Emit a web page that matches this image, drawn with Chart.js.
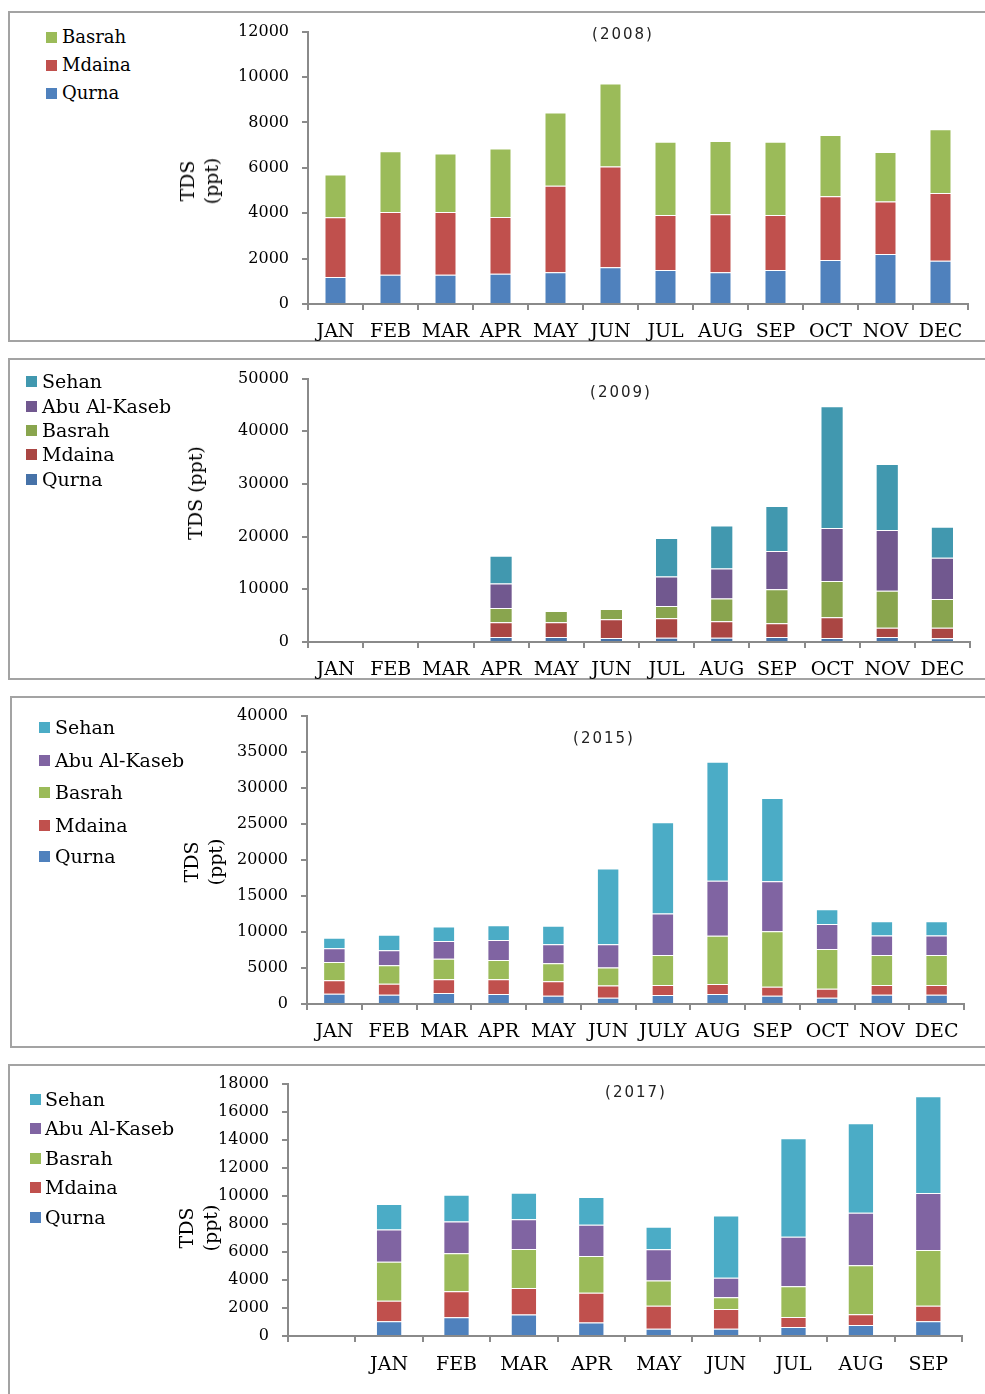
<!DOCTYPE html>
<html><head><meta charset="utf-8">
<script src="https://cdn.jsdelivr.net/npm/chart.js@4.4.1/dist/chart.umd.min.js"></script>
<style>
html,body{margin:0;padding:0;background:#fff;}
body{width:985px;height:1394px;overflow:hidden;position:relative;}
.box{position:absolute;border:2px solid #a3a3a3;box-sizing:border-box;}
.cv{position:absolute;}
.legrow{position:absolute;font-family:'DejaVu Serif';color:#000;white-space:nowrap;line-height:20px;}
.sw{position:absolute;width:11px;height:11px;}
.ytitle{position:absolute;font-family:'DejaVu Serif';font-size:19px;text-align:center;line-height:24px;white-space:nowrap;color:#000;transform:translate(-50%,-50%) rotate(-90deg);}
.ptitle{position:absolute;font-family:'DejaVu Sans';font-size:15px;letter-spacing:2px;color:#222;white-space:nowrap;transform:translate(-50%,-50%);}
</style></head>
<body>
<script>
// ---------- DATA ----------
const months = ['JAN','FEB','MAR','APR','MAY','JUN','JUL','AUG','SEP','OCT','NOV','DEC'];
const months2015 = ['JAN','FEB','MAR','APR','MAY','JUN','JULY','AUG','SEP','OCT','NOV','DEC'];
const months2017 = ['','JAN','FEB','MAR','APR','MAY','JUN','JUL','AUG','SEP'];
const stationNames = ['Qurna','Mdaina','Basrah','Abu Al-Kaseb','Sehan'];
const yearTitles = ['(2008)','(2009)','(2015)','(2017)'];

const qurna2008  = [1190,1290,1290,1330,1400,1620,1500,1400,1500,1940,2200,1900];
const mdaina2008 = [2630,2760,2760,2505,3810,4440,2420,2550,2420,2810,2315,2990];
const basrah2008 = [1880,2680,2580,3010,3230,3650,3230,3230,3230,2700,2185,2810];

const qurna2009  = [null,null,null,940,940,750,820,820,940,750,940,690];
const mdaina2009 = [null,null,null,2820,2820,3570,3690,3130,2630,3950,1750,2000];
const basrah2009 = [null,null,null,2690,2130,1950,2320,4320,6460,6890,7020,5460];
const abu2009    = [null,null,null,4640,null,null,5580,5700,7260,10030,11530,7830];
const sehan2009  = [null,null,null,5260,null,null,7330,8150,8530,23120,12530,5890];

const qurna2015  = [1420,1290,1510,1380,1150,870,1240,1380,1150,870,1290,1290];
const mdaina2015 = [1890,1510,1930,2060,2020,1700,1380,1380,1240,1240,1330,1330];
const basrah2015 = [2520,2570,2850,2670,2480,2480,4180,6700,7710,5510,4180,4180];
const abu2015    = [1890,2070,2440,2750,2620,3220,5740,7620,6940,3490,2710,2710];
const sehan2015  = [1460,2160,2020,2070,2570,10510,12670,16530,11520,2020,1970,1970];

const qurna2017  = [null,1060,1340,1530,960,520,520,640,780,1060];
const mdaina2017 = [null,1450,1860,1900,2120,1640,1410,720,770,1100];
const basrah2017 = [null,2780,2700,2770,2630,1790,840,2190,3500,3970];
const abu2017    = [null,2300,2260,2120,2230,2230,1390,3520,3740,4070];
const sehan2017  = [null,1830,1920,1900,1980,1620,4440,7030,6390,6890];

const yMax = [12000, 50000, 40000, 18000];
const yStep = [2000, 10000, 5000, 2000];

// ---------- STYLE / LAYOUT ----------
const colorsStd = ['#4F81BD','#C0504D','#9BBB59','#8064A2','#4BACC6'];
const colors2009 = ['#4672A8','#AA4643','#89A54E','#71588F','#4198AF'];
const AX = '#8a8a8a';

const panels = [
  {labels: months, series: [qurna2008, mdaina2008, basrah2008], colors: colorsStd,
   box:{l:8,t:11,b:342}, plot:{l:308,r:968,t:29,b:304}, bar:0.40, xpad:11,
   legend:{sx:46,tx:62,fs:18,rows:[93,65,37]}, ytitle:{x:199,y:181,lines:['TDS','(ppt)']}, title:{x:623,y:34}},
  {labels: months, series: [qurna2009, mdaina2009, basrah2009, abu2009, sehan2009], colors: colors2009,
   box:{l:8,t:358,b:680}, plot:{l:308,r:970,t:376,b:642}, bar:0.42, xpad:11,
   legend:{sx:26,tx:42,fs:19,rows:[479,454,430,406,381]}, ytitle:{x:195,y:493,lines:['TDS (ppt)']}, title:{x:621,y:392}},
  {labels: months2015, series: [qurna2015, mdaina2015, basrah2015, abu2015, sehan2015], colors: colorsStd,
   box:{l:10,t:696,b:1048}, plot:{l:307,r:964,t:713,b:1004}, bar:0.41, xpad:11,
   legend:{sx:39,tx:55,fs:19,rows:[856,825,792,760,727]}, ytitle:{x:203,y:862,lines:['TDS','(ppt)']}, title:{x:604,y:738}},
  {labels: months2017, series: [qurna2017, mdaina2017, basrah2017, abu2017, sehan2017], colors: colorsStd,
   box:{l:8,t:1064,b:1420}, plot:{l:288,r:962,t:1081,b:1336}, bar:0.39, xpad:12,
   legend:{sx:30,tx:45,fs:19,rows:[1217,1187,1158,1128,1099]}, ytitle:{x:198,y:1228,lines:['TDS','(ppt)']}, title:{x:636,y:1092}}
];

function el(tag, cls, style, html){
  const e = document.createElement(tag);
  if (cls) e.className = cls;
  Object.assign(e.style, style || {});
  if (html !== undefined) e.innerHTML = html;
  document.body.appendChild(e);
  return e;
}

panels.forEach((p, i) => {
  el('div','box',{left:p.box.l+'px',top:p.box.t+'px',width:(1010-p.box.l)+'px',height:(p.box.b-p.box.t)+'px'});

  const cLeft = 150, cTop = p.plot.t - 20, cRight = 985, cBottom = p.plot.b + 46;
  const wrap = el('div','cv',{left:cLeft+'px',top:cTop+'px',width:(cRight-cLeft)+'px',height:(cBottom-cTop)+'px'});
  const canvas = document.createElement('canvas');
  wrap.appendChild(canvas);

  const datasets = p.series.map((d, k) => ({
    label: stationNames[k],
    data: d,
    backgroundColor: p.colors[k],
    borderColor: 'rgba(255,255,255,0.45)',
    borderWidth: 1,
    barPercentage: 0.8,
    categoryPercentage: p.bar / 0.8
  }));

  new Chart(canvas, {
    type: 'bar',
    data: {labels: p.labels, datasets},
    options: {
      responsive: true, maintainAspectRatio: false, animation: false,
      devicePixelRatio: 1,
      layout: {padding: {top: 20, left: 0, right: cRight - p.plot.r, bottom: 0}},
      plugins: {legend: {display: false}, tooltip: {enabled: false}, title: {display: false}},
      scales: {
        x: {
          stacked: true,
          afterFit: s => { s.height = 46; },
          grid: {display: true, drawOnChartArea: false, drawTicks: true, tickLength: 6, offset: true, color: AX, lineWidth: 2},
          border: {display: true, color: AX, width: 2},
          ticks: {autoSkip: false, maxRotation: 0, minRotation: 0, padding: p.xpad, color: '#000',
                  font: {family: 'DejaVu Serif', size: 19}}
        },
        y: {
          stacked: true, min: 0, max: yMax[i],
          afterFit: s => { s.width = p.plot.l - cLeft; },
          grid: {display: true, drawOnChartArea: false, drawTicks: true, tickLength: 6, color: AX, lineWidth: 2},
          border: {display: true, color: AX, width: 2},
          ticks: {stepSize: yStep[i], padding: 13, color: '#000',
                  callback: v => String(v),
                  font: {family: 'DejaVu Serif', size: 16}}
        }
      }
    }
  });

  // legend (top = last series)
  p.series.forEach((d, k) => {
    const cy = p.legend.rows[k];
    el('span','sw',{left:p.legend.sx+'px',top:(cy-5.5)+'px',background:p.colors[k]});
    el('div','legrow',{left:p.legend.tx+'px',top:(cy-10)+'px',fontSize:p.legend.fs+'px'}, stationNames[k]);
  });

  el('div','ytitle',{left:p.ytitle.x+'px',top:p.ytitle.y+'px'}, p.ytitle.lines.join('<br>'));
  el('div','ptitle',{left:p.title.x+'px',top:p.title.y+'px'}, yearTitles[i]);
});
</script>
</body></html>
